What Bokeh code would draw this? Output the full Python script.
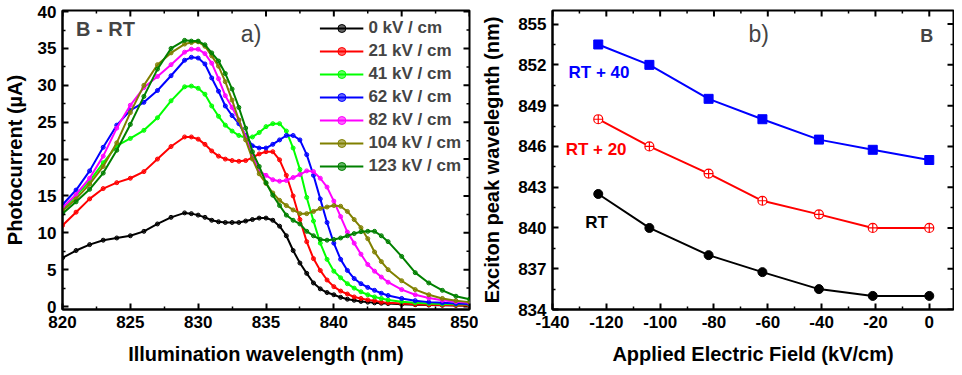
import math
from bokeh.plotting import figure
from bokeh.models import Range1d, FixedTicker, Label
from bokeh.layouts import row
from bokeh.embed import file_html
from bokeh.resources import INLINE

# ---------------- data: panel a) ----------------
wavelength = [820, 821, 822, 823, 824, 825, 826, 827, 828, 829,
              829.5, 830, 830.5, 831, 831.5, 832, 832.5, 833, 833.5, 834,
              834.5, 835, 835.5, 836, 836.5, 837, 837.5, 838, 838.5, 839,
              839.5, 840, 840.5, 841, 841.5, 842, 842.5, 843, 843.5, 844,
              845, 846, 847, 848, 849, 850]

pc_0kV = [6.6, 7.6, 8.4, 9.0, 9.3, 9.6, 10.2, 11.2, 12.1, 12.7,
          12.6, 12.4, 12.1, 11.7, 11.5, 11.4, 11.4, 11.4, 11.6, 11.8,
          12.0, 12.0, 11.7, 10.9, 9.6, 7.6, 5.9, 4.5, 3.2, 2.4,
          1.9, 1.6, 1.25, 1.0, 0.85, 0.7, 0.6, 0.5, 0.45, 0.4,
          0.3, 0.25, 0.2, 0.18, 0.15, 0.12]
pc_21kV = [11.0, 12.8, 14.6, 16.0, 16.8, 17.4, 18.3, 20.0, 21.7, 23.0,
           23.0, 22.7, 22.0, 21.1, 20.4, 20.0, 19.8, 19.7, 19.8, 20.2,
           20.7, 21.0, 21.0, 19.9, 17.8, 15.0, 11.8, 8.8, 6.5, 4.9,
           3.6, 2.7, 2.1, 1.7, 1.3, 1.1, 0.9, 0.8, 0.6, 0.5,
           0.4, 0.3, 0.25, 0.2, 0.18, 0.15]
pc_41kV = [13.2, 15.0, 17.0, 19.5, 21.8, 22.8, 23.9, 25.6, 27.9, 29.8,
           29.9, 29.6, 28.8, 27.2, 25.8, 24.6, 23.8, 23.2, 22.9, 23.0,
           23.6, 24.4, 24.8, 24.8, 23.8, 21.5, 18.6, 14.8, 11.6, 8.6,
           6.4, 4.8, 3.9, 3.1, 2.5, 2.0, 1.6, 1.3, 1.1, 0.9,
           0.65, 0.5, 0.42, 0.35, 0.3, 0.28]
pc_62kV = [13.8, 15.8, 18.4, 21.6, 24.6, 26.6, 27.7, 29.3, 31.3, 33.4,
           33.8, 33.7, 32.9, 31.0, 29.2, 27.2, 25.9, 24.8, 23.2, 21.8,
           21.5, 21.5, 22.0, 22.6, 23.2, 23.2, 22.6, 20.6, 17.8, 14.6,
           11.4, 8.6, 6.4, 4.9, 3.8, 3.1, 2.6, 2.2, 1.8, 1.5,
           1.1, 0.8, 0.6, 0.5, 0.4, 0.35]
pc_82kV = [13.4, 15.2, 17.4, 20.4, 24.2, 27.3, 29.7, 31.2, 32.8, 34.5,
           34.9, 34.9, 34.3, 33.0, 30.9, 28.6, 27.0, 25.3, 23.0, 20.5,
           18.4, 17.8, 17.2, 17.0, 17.1, 17.5, 17.9, 18.4, 18.3, 17.4,
           16.2, 14.3, 12.2, 10.1, 8.6, 7.1, 5.7, 4.8, 4.0, 3.3,
           2.3, 1.6, 1.15, 0.85, 0.65, 0.5]
pc_104kV = [13.0, 14.6, 16.6, 19.0, 22.2, 26.3, 30.0, 32.8, 34.4, 35.6,
            35.8, 35.9, 35.3, 34.0, 32.6, 30.5, 28.0, 25.3, 22.6, 20.0,
            18.0, 16.7, 15.4, 14.4, 13.7, 13.1, 12.6, 12.6, 12.9, 13.3,
            13.5, 13.7, 13.6, 12.9, 11.8, 10.7, 9.2, 7.4, 6.1, 5.0,
            3.5, 2.3, 1.6, 1.1, 0.8, 0.6]
pc_123kV = [12.6, 14.2, 15.9, 18.1, 21.2, 24.7, 28.5, 32.2, 35.0, 36.1,
            36.0, 36.0, 35.5, 34.4, 33.3, 31.6, 29.5, 27.0, 24.2, 21.0,
            19.0, 16.8, 15.1, 13.7, 12.4, 11.7, 11.2, 10.2, 9.6, 9.1,
            9.0, 9.1, 9.3, 9.6, 9.9, 10.15, 10.2, 10.2, 9.6, 8.8,
            6.8, 4.6, 3.2, 2.2, 1.4, 1.0]

series_values = [pc_0kV, pc_21kV, pc_41kV, pc_62kV, pc_82kV, pc_104kV, pc_123kV]
series_labels = ["0 kV / cm", "21 kV / cm", "41 kV / cm", "62 kV / cm",
                 "82 kV / cm", "104 kV / cm", "123 kV / cm"]
series_colors = ["#000000", "#FF0000", "#00FF00", "#0000FF",
                 "#FF00FF", "#808000", "#008000"]

# ---------------- data: panel b) ----------------
field = [-123, -104, -82, -62, -41, -21, 0]
peak_rt = [842.5, 840.0, 838.0, 836.75, 835.5, 835.0, 835.0]
peak_rt20 = [848.0, 846.0, 844.0, 842.0, 841.0, 840.0, 840.0]
peak_rt40 = [853.5, 852.0, 849.5, 848.0, 846.5, 845.75, 845.0]

# ---------------- ticks ----------------
x1_ticks = [820, 825, 830, 835, 840, 845, 850]
y1_ticks = [0, 5, 10, 15, 20, 25, 30, 35, 40]
x2_ticks = [-140, -120, -100, -80, -60, -40, -20, 0]
x2_tick_labels = ["-140", "-120", "-100", "-80", "-60", "-40", "-20", "0"]
y2_ticks = [834, 837, 840, 843, 846, 849, 852, 855]

x1_minor = [t + 2.5 for t in x1_ticks[:-1]]
y1_minor = [t + 2.5 for t in y1_ticks[:-1]]
x2_minor = [t + 10 for t in x2_ticks]
y2_minor = [t + 1.5 for t in y2_ticks]

FONT = "Liberation Sans"


def style_axis(ax):
    ax.axis_line_width = 2
    ax.axis_line_color = "black"
    ax.major_tick_in = 6
    ax.major_tick_out = 0
    ax.minor_tick_in = 3
    ax.minor_tick_out = 0
    ax.major_tick_line_width = 2
    ax.minor_tick_line_width = 1.5
    ax.major_label_text_font = FONT
    ax.major_label_text_font_style = "bold"
    ax.major_label_text_color = "black"
    ax.major_label_text_font_size = "17px"
    ax.major_label_standoff = 6
    ax.axis_label_text_font = FONT
    ax.axis_label_text_font_style = "bold"
    ax.axis_label_text_font_size = "20px"
    ax.axis_label_text_color = "black"


def mirror_ticks(p, xt, xm, yt, ym):
    """Inward tick marks on the top and right frame edges."""
    xr, yr = p.x_range, p.y_range
    p.ray(x=xt, y=[yr.end] * len(xt), length=6, length_units="screen",
          angle=-math.pi / 2, line_color="black", line_width=2)
    p.ray(x=xm, y=[yr.end] * len(xm), length=3, length_units="screen",
          angle=-math.pi / 2, line_color="black", line_width=1.5)
    p.ray(x=[xr.end] * len(yt), y=yt, length=6, length_units="screen",
          angle=math.pi, line_color="black", line_width=2)
    p.ray(x=[xr.end] * len(ym), y=ym, length=3, length_units="screen",
          angle=math.pi, line_color="black", line_width=1.5)


def make_fig(width, x_range, y_range, xt, xm, yt, ym, bl, br, x_overrides=None):
    p = figure(width=width, height=367, x_range=x_range, y_range=y_range,
               output_backend="svg", toolbar_location=None,
               min_border_left=bl, min_border_right=br,
               min_border_top=10, min_border_bottom=57)
    p.grid.visible = False
    p.outline_line_color = "black"
    p.outline_line_width = 2
    p.background_fill_color = "white"
    p.border_fill_color = "white"
    xa = p.below[0]
    ya = p.left[0]
    xa.ticker = FixedTicker(ticks=xt, minor_ticks=xm)
    ya.ticker = FixedTicker(ticks=yt, minor_ticks=ym)
    if x_overrides:
        xa.major_label_overrides = x_overrides
    style_axis(xa)
    style_axis(ya)
    mirror_ticks(p, xt, xm, yt, ym)
    return p, xa, ya


# ---------------- panel a ----------------
p1, xa1, ya1 = make_fig(478, Range1d(820, 850), Range1d(-0.4, 40.15),
                        x1_ticks, x1_minor, y1_ticks, y1_minor, 56, 9)
xa1.axis_label = "Illumination wavelength (nm)"
ya1.axis_label = "Photocurrent (µA)"
xa1.axis_label_standoff = 12
ya1.axis_label_standoff = 9

for vals, lab, col in zip(series_values, series_labels, series_colors):
    p1.line(wavelength, vals, line_color=col, line_width=2, legend_label=lab)
    p1.scatter(wavelength, vals, marker="circle", size=4, fill_color=col,
               line_color=col, fill_alpha=0.6, legend_label=lab)

lg = p1.legend[0]
lg.location = "top_right"
lg.background_fill_alpha = 0
lg.border_line_alpha = 0
lg.label_text_font = FONT
lg.label_text_font_style = "bold"
lg.label_text_font_size = "17px"
lg.glyph_width = 44
lg.glyph_height = 20
lg.label_height = 20
lg.spacing = 3
lg.padding = 4
lg.margin = 4
lg.label_standoff = 5

p1.add_layout(Label(x=821.0, y=37.6, text="B - RT", text_font=FONT,
                    text_font_style="bold", text_font_size="20px",
                    text_baseline="middle", text_align="left"))
p1.add_layout(Label(x=833.9, y=36.9, text="a)", text_font=FONT,
                    text_font_size="23px", text_baseline="middle",
                    text_align="center"))

# ---------------- panel b ----------------
p2, xa2, ya2 = make_fig(476, Range1d(-140, 9), Range1d(834, 856),
                        x2_ticks, x2_minor, y2_ticks, y2_minor, 71, 1,
                        x_overrides={t: s for t, s in zip(x2_ticks, x2_tick_labels)})
xa2.axis_label = "Applied Electric Field (kV/cm)"
ya2.axis_label = "Exciton peak wavelegnth (nm)"
xa2.axis_label_standoff = 12
ya2.axis_label_standoff = 12

p2.line(field, peak_rt40, line_color="#0000FF", line_width=2)
p2.scatter(field, peak_rt40, marker="square", size=9, fill_color="#0000FF",
           line_color="#0000FF")
p2.line(field, peak_rt20, line_color="#FF0000", line_width=2)
p2.scatter(field, peak_rt20, marker="circle_cross", size=9, fill_color="white",
           line_color="#FF0000", line_width=1.2)
p2.line(field, peak_rt, line_color="black", line_width=2)
p2.scatter(field, peak_rt, marker="circle", size=9, fill_color="black",
           line_color="black")

p2.add_layout(Label(x=-63.4, y=854.3, text="b)", text_font=FONT,
                    text_font_size="23px", text_baseline="middle",
                    text_align="center"))
p2.add_layout(Label(x=-0.9, y=854.15, text="B", text_font=FONT,
                    text_font_style="bold", text_font_size="18px",
                    text_baseline="middle", text_align="center"))
p2.add_layout(Label(x=-122.7, y=851.46, text="RT + 40", text_font=FONT,
                    text_font_style="bold", text_font_size="17px",
                    text_color="#0000FF", text_baseline="middle",
                    text_align="center"))
p2.add_layout(Label(x=-123.8, y=845.75, text="RT + 20", text_font=FONT,
                    text_font_style="bold", text_font_size="17px",
                    text_color="#FF0000", text_baseline="middle",
                    text_align="center"))
p2.add_layout(Label(x=-123.6, y=840.4, text="RT", text_font=FONT,
                    text_font_style="bold", text_font_size="17px",
                    text_color="black", text_baseline="middle",
                    text_align="center"))

layout = row(p1, p2)
open("out.html", "w").write(file_html(layout, INLINE))
